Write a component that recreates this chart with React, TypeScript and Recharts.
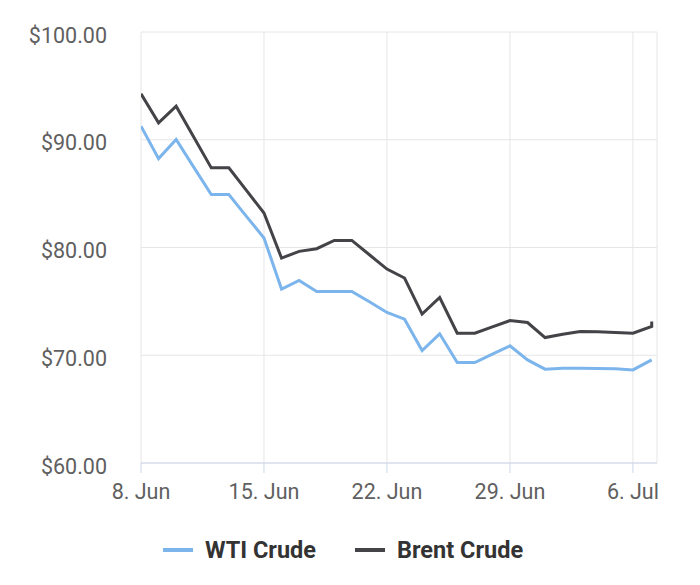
import React from 'react';
import { LineChart, Line, XAxis, YAxis, CartesianGrid, Legend } from 'recharts';

// days counted from 8 Jun
const tickDays = [0, 7, 14, 21, 28];
const tickLabels = ['8. Jun', '15. Jun', '22. Jun', '29. Jun', '6. Jul'];
const priceTicks = [60, 70, 80, 90, 100];

const wtiDays = [0, 1, 2, 3, 4, 5, 6, 7, 8, 9, 10, 11, 12, 13, 14, 15, 16, 17, 18, 19, 20, 21, 22, 23, 24, 25, 26, 27, 28, 29.07];
const wtiPrices = [91.26, 88.25, 90.02, 87.46, 84.91, 84.91, 82.89, 80.88, 76.14, 76.94, 75.92, 75.92, 75.92, 74.96, 73.97, 73.35, 70.44, 71.99, 69.32, 69.32, 70.1, 70.87, 69.57, 68.71, 68.8, 68.8, 68.78, 68.75, 68.64, 69.57];

const brentDays = [0, 1, 2, 3, 4, 5, 6, 7, 8, 9, 10, 11, 12, 13, 14, 15, 16, 17, 18, 19, 20, 21, 22, 23, 24, 25, 26, 27, 28, 29.07, 29.07];
const brentPrices = [94.27, 91.57, 93.11, 90.25, 87.39, 87.39, 85.3, 83.2, 79.02, 79.64, 79.89, 80.66, 80.66, 79.33, 78.0, 77.17, 73.82, 75.36, 72.05, 72.05, 72.64, 73.22, 73.04, 71.64, 71.94, 72.2, 72.18, 72.12, 72.05, 72.67, 73.13];

const wtiData = wtiDays.map((d, i) => ({ day: d, price: wtiPrices[i] }));
const brentData = brentDays.map((d, i) => ({ day: d, price: brentPrices[i] }));

const WTI_COLOR = '#7cb5ec';
const BRENT_COLOR = '#434348';

const legendItems = [
    { name: 'WTI Crude', color: WTI_COLOR },
    { name: 'Brent Crude', color: BRENT_COLOR },
];

function ChartLegend() {
    return (
        <div style={{ display: 'flex', justifyContent: 'center', gap: 39, fontFamily: 'Roboto', fontWeight: 700, fontSize: 23.5, color: '#333333' }}>
            {legendItems.map((it) => (
                <div key={it.name} style={{ display: 'flex', alignItems: 'center' }}>
                    <svg width={30} height={6} style={{ marginRight: 12 }}>
                        <line x1={0} y1={3} x2={30} y2={3} stroke={it.color} strokeWidth={4} />
                    </svg>
                    <span>{it.name}</span>
                </div>
            ))}
        </div>
    );
}

export default function App() {
    return (
        <div style={{ position: 'absolute', left: 0, top: 0, width: 700, height: 585, background: '#fff', fontFamily: 'Roboto' }}>
            <LineChart width={700} height={585} margin={{ top: 32, right: 43, bottom: 72, left: 0 }}>
                <CartesianGrid stroke="#e6e6e6" strokeWidth={1} />
                <XAxis
                    type="number"
                    dataKey="day"
                    domain={[0, 29.37]}
                    ticks={tickDays}
                    tickFormatter={(v: number) => tickLabels[tickDays.indexOf(v)]}
                    height={50}
                    tickSize={10}
                    tickMargin={11}
                    stroke="#ccd6eb"
                    tick={{ fill: '#606060', fontSize: 21.5 }}
                    allowDataOverflow
                />
                <YAxis
                    type="number"
                    domain={[60, 100]}
                    ticks={priceTicks}
                    tickFormatter={(v: number) => `$${v.toFixed(2)}`}
                    width={141}
                    axisLine={false}
                    tickLine={false}
                    tickSize={0}
                    tickMargin={34}
                    tick={{ fill: '#606060', fontSize: 21.5, dy: 3 }}
                />
                <Legend
                    verticalAlign="middle"
                    align="center"
                    layout="horizontal"
                    content={() => <ChartLegend />}
                    wrapperStyle={{ top: 536, left: 0, width: 686 }}
                />
                <Line data={wtiData} dataKey="price" name="WTI Crude" type="linear" stroke={WTI_COLOR} strokeWidth={3} dot={false} isAnimationActive={false} />
                <Line data={brentData} dataKey="price" name="Brent Crude" type="linear" stroke={BRENT_COLOR} strokeWidth={3} dot={false} isAnimationActive={false} />
            </LineChart>
        </div>
    );
}
